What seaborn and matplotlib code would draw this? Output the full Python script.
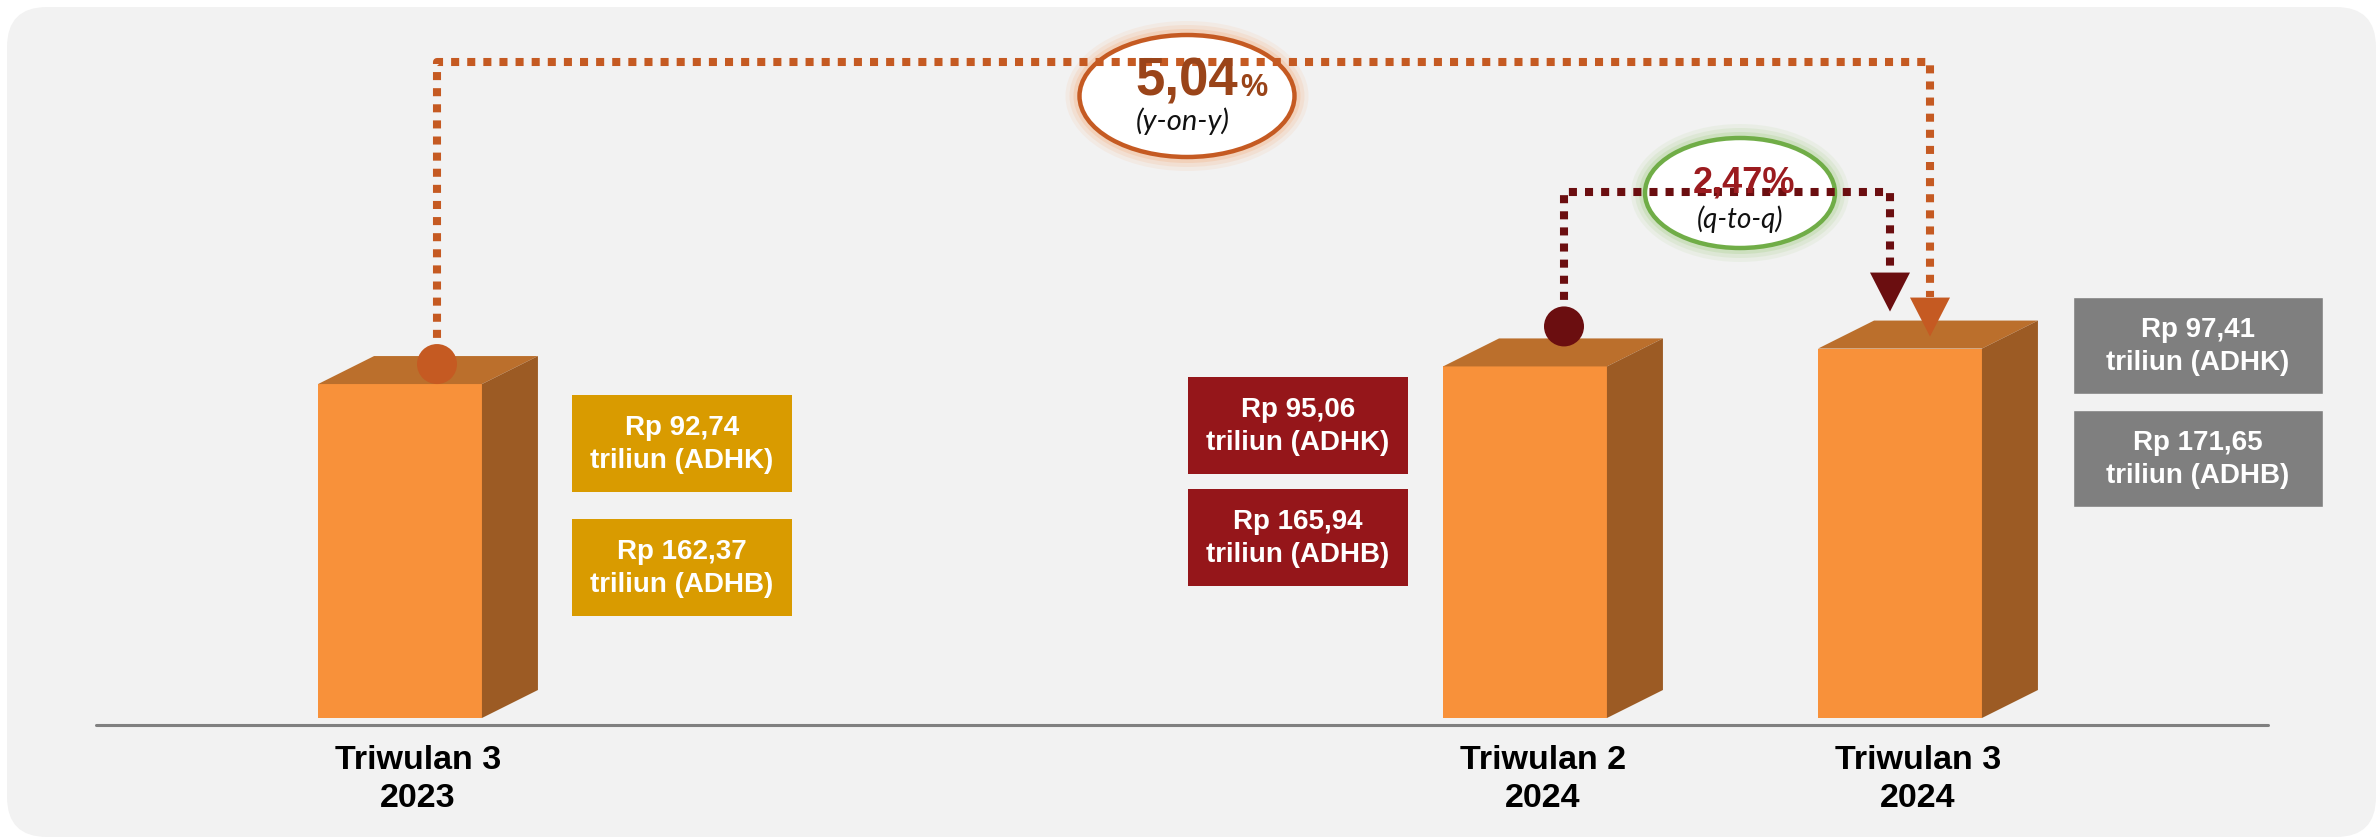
import matplotlib
matplotlib.use("Agg")
import matplotlib.pyplot as plt
import matplotlib.patches as mpatches
import matplotlib.transforms as mtransforms
from matplotlib.lines import Line2D
import pandas as pd
import seaborn as sns

# data
periods = ["Triwulan 3\n2023", "Triwulan 2\n2024", "Triwulan 3\n2024"]
slots = [0, 3, 4]
adhk = [92.74, 95.06, 97.41]
adhb = [162.37, 165.94, 171.65]
yoy = "5,04"
qtq = "2,47"
box_colors = ["#D99B00", "#95161A", "#7F7F7F"]

W, H = 2378, 839
sns.set_style("white")
plt.rcParams["font.family"] = ["Liberation Sans", "DejaVu Sans"]

fig = plt.figure(figsize=(W / 100, H / 100), dpi=100)
fig.patch.set_facecolor("white")
# image pixel coords (origin top-left)
pix = mtransforms.Affine2D().scale(1 / 100, -1 / 100).translate(0, H / 100) + fig.dpi_scale_trans

bg = mpatches.FancyBboxPatch((7, 7), 2369, 830, boxstyle="round,pad=0,rounding_size=40",
                             facecolor="#F2F2F2", edgecolor="none", transform=pix, zorder=-5)
fig.add_artist(bg)

ax = fig.add_axes([0, (H - 718) / H, 1, 718 / H])
ax.patch.set_visible(False)

df = pd.DataFrame({"slot": slots, "adhk": adhk})
sns.barplot(data=df, x="slot", y="adhk", native_scale=True, width=0.437, color="#F8913A",
            saturation=1, errorbar=None, linewidth=0, ax=ax)
bars = list(ax.patches)

ax.set_xlim(-400 / 375, (W - 400) / 375)
ax.set_ylim(48.8, 48.8 + 718 / 7.6)
ax.axis("off")


def d2p(x, y):
    dx, dy = ax.transData.transform((x, y))
    return dx, H - dy


# 3d faces
base = ax.get_ylim()[0]
geo = []
for p in bars:
    l, t = d2p(p.get_x(), p.get_height())
    r, b = d2p(p.get_x() + p.get_width(), base)
    geo.append((l, r, t, b))
    ax.add_patch(mpatches.Polygon([(l, t), (l + 56, t - 28), (r + 56, t - 28), (r, t)],
                                  closed=True, facecolor="#BB6F2C", edgecolor="none",
                                  transform=pix, clip_on=False))
    ax.add_patch(mpatches.Polygon([(r, t), (r + 56, t - 28), (r + 56, b - 28), (r, b)],
                                  closed=True, facecolor="#9C5B24", edgecolor="none",
                                  transform=pix, clip_on=False))

# baseline
ax.add_line(Line2D([96, 2268], [725, 725], color="#808080", lw=2.2, transform=pix, clip_on=False))

# category labels
for (l, r, t, b), lab in zip(geo, periods):
    ax.text((l + r) / 2 + 18, 745, lab, transform=pix, ha="center", va="top",
            fontsize=24.5, fontweight="bold", color="black", linespacing=1.3)

# value boxes
box_layout = [(572, 395, 220, 97, 27), (1188, 377, 220, 97, 15), (2073, 297, 250, 97, 16)]
for (bx, by, bw, bh, gap), v1, v2, c in zip(box_layout, adhk, adhb, box_colors):
    ec = "#F2F2F2" if c == "#7F7F7F" else "none"
    for k, (val, tag) in enumerate([(v1, "ADHK"), (v2, "ADHB")]):
        top = by + k * (bh + gap)
        ax.add_patch(mpatches.Rectangle((bx, top), bw, bh, facecolor=c, edgecolor=ec, lw=1,
                                        transform=pix, clip_on=False))
        txt = "Rp " + f"{val:.2f}".replace(".", ",") + f"\ntriliun ({tag})"
        ax.text(bx + bw / 2, top + bh / 2 + 1, txt, transform=pix, ha="center", va="center",
                fontsize=20, fontweight="bold", color="white", linespacing=1.35)


def dotted(xs, ys, color):
    ax.add_line(Line2D(xs, ys, color=color, lw=5.8, linestyle=(0, (1, 1)),
                       dash_capstyle="butt", transform=pix, clip_on=False))


def arrow(x, tip, color):
    ax.add_patch(mpatches.Polygon([(x - 20, tip - 39), (x + 20, tip - 39), (x, tip)], closed=True,
                                  facecolor=color, edgecolor="none", transform=pix, clip_on=False))


def bubble(cx, cy, w, h, edge, glow):
    for g, a in [(14, 0.12), (10, 0.18), (6, 0.3)]:
        ax.add_patch(mpatches.Ellipse((cx, cy), w + 2 * g, h + 2 * g, facecolor=glow, edgecolor="none",
                                      alpha=a, transform=pix, clip_on=False))
    ax.add_patch(mpatches.Ellipse((cx, cy), w, h, facecolor="white", edgecolor=edge, lw=3.2,
                                  transform=pix, clip_on=False))


orange = "#C55A22"
maroon = "#6B0E10"
# y-on-y connector
l1, r1, t1, b1 = geo[0]
l3, r3, t3, b3 = geo[2]
c1 = (l1 + r1) / 2 + 37
c3 = (l3 + r3) / 2
dotted([c1, c1, c3 + 30, c3 + 30], [t1 - 30, 62, 62, t3 - 52], orange)
arrow(c3 + 30, t3 - 12, orange)
ax.add_patch(mpatches.Circle((c1, t1 - 20), 20, facecolor=orange, edgecolor="none",
                             transform=pix, clip_on=False))

# q-to-q connector
l2, r2, t2, b2 = geo[1]
c2 = (l2 + r2) / 2 + 39
dotted([c2, c2, c3 - 10, c3 - 10], [t2 - 50, 192, 192, t3 - 77], maroon)
arrow(c3 - 10, t3 - 37, maroon)
ax.add_patch(mpatches.Circle((c2, t2 - 40), 20, facecolor=maroon, edgecolor="none",
                             transform=pix, clip_on=False))

# bubbles
bubble(1187, 96, 215, 122, orange, "#F4B183")
ax.text(1238, 96, yoy, transform=pix, ha="right", va="baseline", fontsize=38,
        fontweight="bold", color="#9A4419")
ax.text(1240, 96, "%", transform=pix, ha="left", va="baseline", fontsize=22,
        fontweight="bold", color="#9A4419")
ax.text(1183, 130, "(y-on-y)", transform=pix, ha="center", va="baseline", fontsize=21,
        style="italic", family=["Lato", "DejaVu Sans"], color="#111111")

bubble(1740, 193, 190, 110, "#70AD47", "#A9D18E")
ax.text(1744, 192, qtq + "%", transform=pix, ha="center", va="baseline", fontsize=26,
        fontweight="bold", color="#9B1B1F")
ax.text(1740, 228, "(q-to-q)", transform=pix, ha="center", va="baseline", fontsize=20,
        style="italic", family=["Lato", "DejaVu Sans"], color="#111111")

fig.savefig("out.png", dpi=100, facecolor="white")
